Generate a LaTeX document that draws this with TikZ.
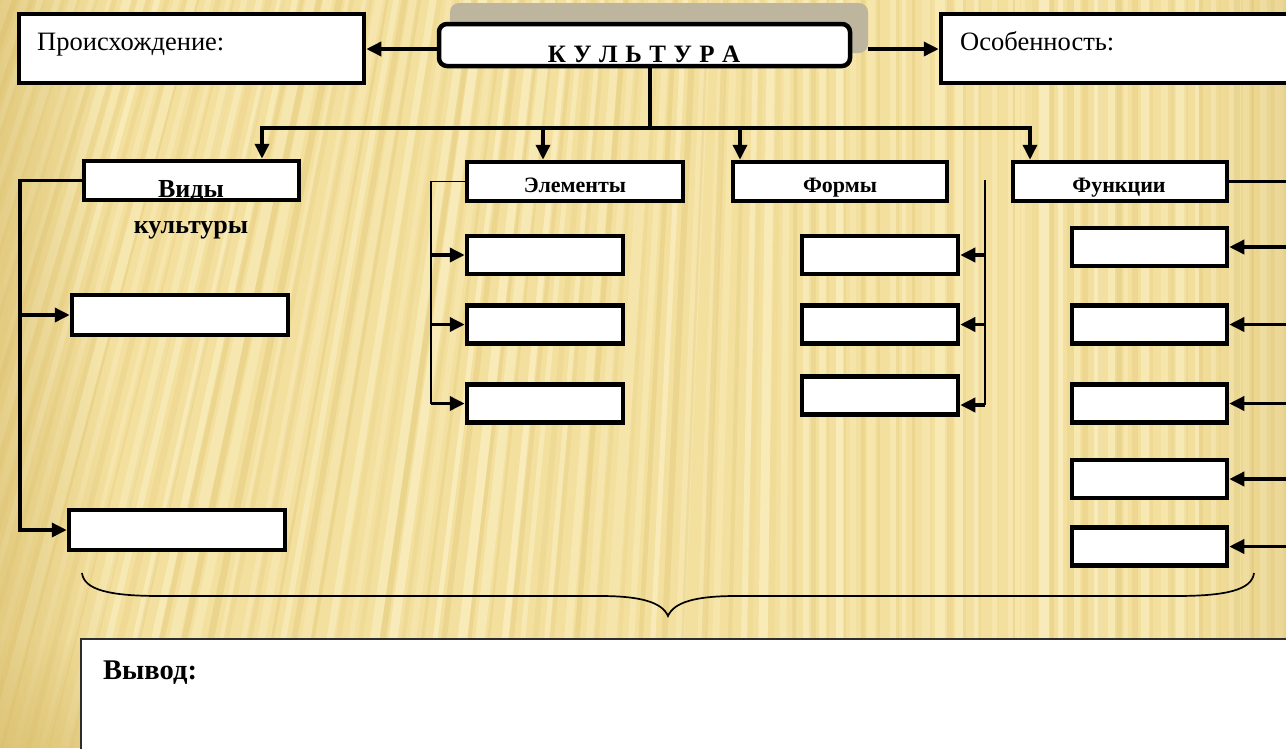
\documentclass[tikz,border=0pt]{standalone}
\usepackage{fontspec}
\setmainfont{Liberation Serif}
\usetikzlibrary{arrows.meta,fadings}
\definecolor{bgbase}{RGB}{243,224,158}
\definecolor{bglight}{RGB}{252,242,200}
\definecolor{bgdark}{RGB}{226,198,118}
\definecolor{bgedge}{RGB}{214,186,104}
\definecolor{shadowc}{RGB}{190,181,158}
\definecolor{vyvline}{RGB}{45,45,45}
\newcommand\kgap{\hspace{7.5pt}}
\begin{document}
\begin{tikzpicture}[x=1pt,y=-1pt,
  box/.style={draw=black, line width=4.5pt, fill=white, inner sep=0pt, rectangle},
  shadowbox/.style={fill=shadowc, rounded corners=9pt, inner sep=0pt, rectangle},
  vyvbox/.style={draw=vyvline, line width=2pt, fill=white, inner sep=0pt, rectangle},
  conn/.style={line width=3.5pt, draw=black},
  thinl/.style={line width=1.4pt, draw=black},
  arr/.style={line width=3.5pt, draw=black, -{Triangle[length=15pt,width=14pt]}},
  bracepath/.style={line width=1.7pt, draw=black},
  t26/.style={font=\fontsize{26.5}{30}\selectfont, inner sep=0pt},
  tb26/.style={font=\fontsize{26}{30}\selectfont\bfseries, inner sep=0pt},
  tb28/.style={font=\fontsize{28.5}{32}\selectfont\bfseries, inner sep=0pt},
  tb22/.style={font=\fontsize{22}{26}\selectfont\bfseries, inner sep=0pt},
  tb25/.style={font=\fontsize{25}{29}\selectfont\bfseries, inner sep=0pt}]
\useasboundingbox (0,0) rectangle (1286,748);
% background
\begin{scope}
  \clip (0,0) rectangle (1286,748);
  \fill[bgbase] (0,0) rectangle (1286,748);
  \pgfmathsetseed{11}
  \foreach \i in {-2,...,78} {
    \pgfmathsetmacro{\xt}{\i*17+rnd*6}
    \pgfmathsetmacro{\sh}{max(0,260*(1-\xt/800))}
    \pgfmathsetmacro{\w}{4+rnd*8}
    \pgfmathsetmacro{\op}{0.3+0.4*rnd}
    \fill[bglight, opacity=\op] (\xt,0) -- (\xt+\w,0) -- (\xt+\w-\sh,748) -- (\xt-\sh,748) -- cycle;
    \pgfmathsetmacro{\xd}{\i*17+9+rnd*4}
    \pgfmathsetmacro{\shd}{max(0,260*(1-\xd/800))}
    \pgfmathsetmacro{\wd}{2+rnd*5}
    \pgfmathsetmacro{\opd}{0.15+0.3*rnd}
    \fill[bgdark, opacity=\opd] (\xd,0) -- (\xd+\wd,0) -- (\xd+\wd-\shd,748) -- (\xd-\shd,748) -- cycle;
  }
  \fill[bgedge, opacity=0.55, path fading=east] (0,0) rectangle (110,748);
  \fill[bgedge, opacity=0.45, path fading=north] (0,640) rectangle (1286,748);
  \fill[bgedge, opacity=0.35, path fading=west] (1186,0) rectangle (1286,748);
\end{scope}

% top row
\node[shadowbox, minimum width=418pt, minimum height=50pt] (ksh) at (659,28) {};
\node[box, rounded corners=8pt, minimum width=411pt, minimum height=42pt] (kul) at (644.5,45) {};
\node[tb25, anchor=base] (kult) at (644,62) {К\kgap У\kgap Л\kgap Ь\kgap Т\kgap У\kgap Р\kgap А};

\node[box, minimum width=345pt, minimum height=69pt] (orig) at (191.5,48.5) {};
\node[t26, anchor=base west] (origt) at (37,50) {Происхождение:};
\node[box, minimum width=360pt, minimum height=69pt] (osob) at (1121,48.5) {};
\node[t26, anchor=base west] (osobt) at (960,50) {Особенность:};

\coordinate (ky) at (0,49);
\draw[arr] (kul.west |- ky) -- (orig.east |- ky);
\draw[arr] (ksh.east |- ky) -- (osob.west |- ky);

% second row headers
\node[box, minimum width=215pt, minimum height=39pt] (vid) at (191.5,180.5) {};
\node[tb26, anchor=base] (vidt1) at (191,197) {Виды};
\node[tb26, anchor=base] (vidt2) at (191,233) {культуры};
\node[box, minimum width=216pt, minimum height=39pt] (el) at (575,181.5) {};
\node[tb22, anchor=base] (elt) at (575,192.5) {Элементы};
\node[box, minimum width=214pt, minimum height=39pt] (fo) at (840,181.5) {};
\node[tb22, anchor=base] (fot) at (840,192.5) {Формы};
\node[box, minimum width=214pt, minimum height=39pt] (fu) at (1120,181.5) {};
\node[tb22, anchor=base] (fut) at (1119,192.5) {Функции};

% tree from KULTURA
\coordinate (trunk) at (650,128);
\coordinate (dv) at (262,128);
\coordinate (de) at (543,128);
\coordinate (df) at (740,128);
\coordinate (dfu) at (1030,128);
\draw[conn] (kul.south -| trunk) -- (trunk);
\draw[arr] (trunk) -| (vid.north -| dv);
\draw[arr] (trunk) -| (fu.north -| dfu);
\draw[arr] (de) -- (el.north -| de);
\draw[arr] (df) -- (fo.north -| df);

% Vidy children
\node[box, minimum width=216pt, minimum height=40pt] (v1) at (180,315) {};
\node[box, minimum width=216pt, minimum height=40pt] (v2) at (177,530) {};
\coordinate (vx) at (20,0);
\draw[arr] (vid.west) -| (vx |- v2.west) -- (v2.west);
\draw[arr] (vx |- v1.west) -- (v1.west);

% Elementy children
\node[box, minimum width=156pt, minimum height=38pt] (e1) at (545,255) {};
\node[box, minimum width=156pt, minimum height=38pt] (e2) at (545,324.5) {};
\node[box, minimum width=156pt, minimum height=38pt] (e3) at (545,403.5) {};
\coordinate (ex) at (431,0);
\draw[thinl] (el.west) -| (ex |- e3.west);
\draw[arr] (ex |- e1.west) -- (e1.west);
\draw[arr] (ex |- e2.west) -- (e2.west);
\draw[arr] (ex |- e3.west) -- (e3.west);

% Formy children
\node[box, minimum width=156pt, minimum height=38pt] (f1) at (880,255) {};
\node[box, minimum width=156pt, minimum height=38pt] (f2) at (880,324.5) {};
\node[box, minimum width=156pt, minimum height=38pt] (f3) at (880,395.5) {};
\coordinate (fxt) at (985,180);
\coordinate (fxb) at (985,405);
\draw[thinl] (fxt) -- (fxb);
\draw[arr] (fxt |- f1.east) -- (f1.east);
\draw[arr] (fxt |- f2.east) -- (f2.east);
\draw[arr] (fxb) -- (fxb -| f3.east);

% Funktsii children
\node[box, minimum width=155pt, minimum height=38pt] (u1) at (1149.5,247) {};
\node[box, minimum width=155pt, minimum height=38pt] (u2) at (1149.5,324.5) {};
\node[box, minimum width=155pt, minimum height=38pt] (u3) at (1149.5,403.5) {};
\node[box, minimum width=155pt, minimum height=38pt] (u4) at (1149.5,479) {};
\node[box, minimum width=155pt, minimum height=38pt] (u5) at (1149.5,546.5) {};
\coordinate (rx) at (1294,0);
\draw[conn] (fu.east) -- (rx |- fu.east) -- (rx |- u5.east);
\draw[arr] (rx |- u1.east) -- (u1.east);
\draw[arr] (rx |- u2.east) -- (u2.east);
\draw[arr] (rx |- u3.east) -- (u3.east);
\draw[arr] (rx |- u4.east) -- (u4.east);
\draw[arr] (rx |- u5.east) -- (u5.east);

% brace
\coordinate (bl) at (82,573);
\coordinate (bc) at (668,616);
\coordinate (br) at (1254,573);
\draw[bracepath] (bl) .. controls (84,590) and (110,596) .. (160,596) -- (600,596)
  .. controls (640,596) and (662,602) .. (bc)
  .. controls (674,602) and (696,596) .. (736,596) -- (1176,596)
  .. controls (1226,596) and (1252,590) .. (br);

% conclusion box
\node[vyvbox, minimum width=1219pt, minimum height=121pt] (vyv) at (690.5,699.5) {};
\node[tb28, anchor=base west] (vyvt) at (103,679) {Вывод:};
\end{tikzpicture}
\end{document}
